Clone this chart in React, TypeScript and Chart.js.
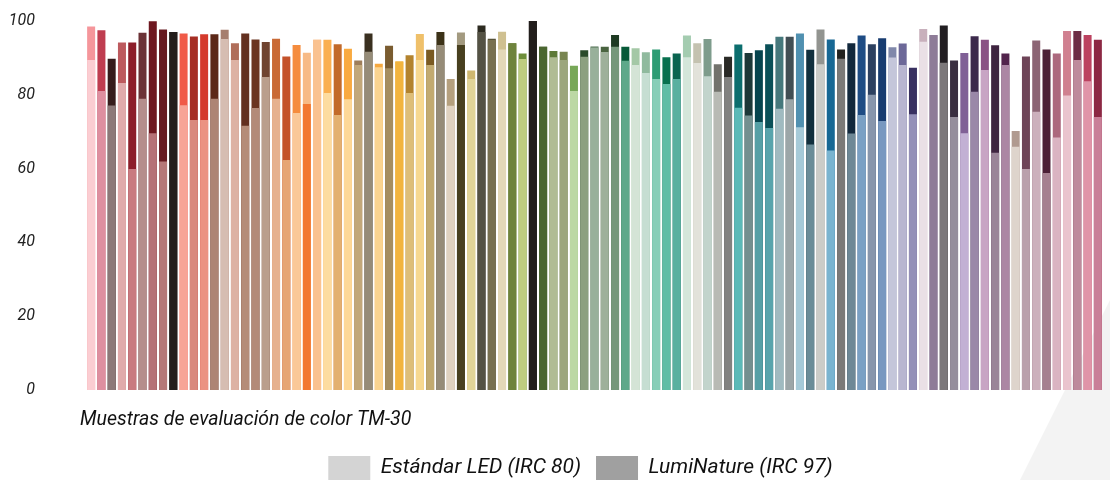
import React, { useEffect, useRef } from "react";
import { Chart, registerables } from "chart.js";

Chart.register(...registerables);

const categories = Array.from({ length: 99 }, (_, i) => `CES${String(i + 1).padStart(2, "0")}`);

const standardLED = [
  89.4, 81.0, 77.1, 83.2, 59.9, 78.9, 69.6, 61.9, 97.0, 77.2, 73.2, 73.2, 78.9, 95.1, 89.4, 71.6, 76.4,
  84.8, 78.9, 62.3, 75.1, 77.5, 94.9, 80.5, 74.5, 78.8, 88.1, 91.7, 87.5, 87.2, 89.0, 80.5, 89.4,
  88.1, 93.5, 77.0, 93.5, 84.3, 97.0, 94.9, 92.3, 94.0, 89.7, 100, 93.0, 90.2, 89.4, 81.0, 90.3, 92.8,
  91.6, 93.0, 89.2, 88.1, 85.9, 84.3, 82.9, 84.3, 90.2, 88.6, 85.0, 80.8, 84.8, 76.5, 74.4, 72.6, 71.0,
  76.2, 78.8, 71.2, 66.5, 88.3, 64.9, 89.8, 69.5, 74.5, 80.0, 72.9, 90.1, 88.1, 74.7, 94.4, 96.2, 88.7,
  74.0, 69.6, 80.8, 86.7, 64.3, 88.1, 65.9, 59.9, 75.4, 58.8, 68.4, 79.8, 89.4, 83.7, 74.0,
];

const lumiNature = [
  98.5, 97.5, 89.8, 94.2, 94.2, 96.8, 99.9, 97.7, 97.0, 96.6, 95.8, 96.4, 96.4, 97.6, 94.0, 96.6, 95.0,
  94.3, 95.2, 90.4, 93.5, 91.4, 94.9, 94.9, 93.7, 92.5, 89.3, 96.6, 88.4, 93.3, 89.0, 90.7, 96.5,
  92.2, 97.0, 84.3, 96.9, 86.6, 98.8, 95.2, 97.1, 94.0, 91.2, 100, 93.0, 91.9, 91.7, 87.9, 92.1, 93.1,
  93.0, 96.2, 93.0, 92.6, 91.5, 92.3, 90.2, 91.2, 96.1, 94.0, 95.1, 88.3, 90.3, 93.6, 91.3, 92.1, 93.7,
  95.7, 95.7, 96.6, 92.2, 97.7, 95.0, 92.3, 94.0, 96.1, 93.7, 95.3, 92.9, 93.9, 87.3, 97.8, 96.2, 98.8,
  89.3, 91.3, 95.9, 94.9, 93.4, 91.2, 70.2, 90.4, 94.7, 92.3, 91.2, 97.3, 97.3, 96.2, 94.9,
];

const standardColors = [
  "#FBCDD2", "#DE8FA0", "#8C7878", "#E0AAAB", "#C97A80", "#B58E8C", "#B57277", "#B57878", "#231E1C",
  "#F7A496", "#D9897E", "#EB9282", "#AD8474", "#D6BDB2", "#DDB2A4", "#B58C78", "#B38A78", "#BA9E8C",
  "#E6B18E", "#E6A574", "#FAC898", "#F27832", "#FAC290", "#FDDCA0", "#E3B070", "#FDD898", "#C2A87A",
  "#968C78", "#FAD490", "#A68E60", "#F2B43E", "#DEBE78", "#F7D890",
  "#C2AA70", "#968C78", "#E0D2C0", "#484020", "#E0D498", "#545244", "#787050", "#E3D8B8", "#6E833C",
  "#BECC80", "#221E1C", "#4A6630", "#B0BC94", "#9CA67C", "#BCD8A4", "#8CA080", "#98B09A",
  "#9EB09A", "#76987A", "#5EA88A", "#D4E4D6", "#C6DED2", "#88CEB8", "#60BDA6", "#5AB0A0", "#D4E6DA",
  "#E2E2DA", "#C2D4CC", "#B8BAB4", "#828280", "#5CBAB8", "#739090", "#56A0A6", "#58A4AC",
  "#A0BAC0", "#9CA6A8", "#A6CAD8", "#6A8C98", "#CBCCC8", "#7AB4D0", "#7C7A78", "#6E8896", "#7AA0C4",
  "#8896AC", "#7898C0", "#C4C6DA", "#B8B6D0", "#9490B8", "#EAE0E6", "#8E7C98", "#7C787A",
  "#968E9C", "#C2B0D4", "#9A88A8", "#C8A4C4", "#9A8498", "#AC86A4", "#DED4CC", "#BAA0AC", "#CCB0BC",
  "#A68090", "#DAB4C2", "#EAC4CE", "#BE8A9C", "#E094A8", "#C97F98",
];

const lumiColors = [
  "#F5969B", "#BF3D50", "#361C1C", "#BD5A5E", "#8C1E2A", "#6B3236", "#6E1820", "#661A20", "#231E1C",
  "#F05A48", "#A62E24", "#D43A2C", "#5C2818", "#A67E6E", "#B06E5A", "#633020", "#6B3420", "#704430",
  "#C96A36", "#C4522A", "#F58C3E", "#F7BA86", "#FAC290", "#FAAF50", "#C26A2A", "#F9AA40", "#9E7E5A",
  "#3A3020", "#F5A840", "#7A5C30", "#F2B43E", "#B3832E", "#EFC06A",
  "#7A5A22", "#3C3218", "#B5A07E", "#A39A80", "#CFB870", "#2C2A20", "#4C4830", "#CFC090", "#6E833C",
  "#6E8E3A", "#221E1C", "#4A6630", "#5E7A38", "#788550", "#78A858", "#2A4A2A", "#4E6E50",
  "#4A6440", "#1E3A22", "#075A38", "#A4C8A6", "#90BA9E", "#2E9C74", "#07704E", "#0A6450", "#A4CCB0",
  "#C4C2B0", "#7E9C8C", "#72726C", "#2A2A26", "#0C6E6E", "#1C3838", "#06444E", "#0A5058",
  "#46787C", "#424E54", "#5090B0", "#12303E", "#929490", "#186894", "#222220", "#12283C", "#1E4C84",
  "#2C4060", "#183C70", "#8088AA", "#6C6898", "#383060", "#C8B0BC", "#8E7C98", "#221E22",
  "#3A2E40", "#806096", "#3C2A4C", "#8A5284", "#3E2440", "#52244C", "#B09A90", "#6E4458", "#8C6474",
  "#4C2036", "#AC687E", "#D08090", "#6E2C44", "#BC4260", "#8C2844",
];

const yTickValues = [0, 20, 40, 60, 80, 100];
const seriesNames = ["Estándar LED (IRC 80)", "LumiNature (IRC 97)"];
const legendSwatches = ["#D4D4D4", "#A0A0A0"];
const xTitle = "Muestras de evaluación de color TM-30";

const FONT = "Roboto, 'Noto Sans', sans-serif";

export default function App() {
  const ref = useRef<HTMLCanvasElement>(null);

  useEffect(() => {
    if (!ref.current) return;
    const bgShape = {
      id: "bgShape",
      beforeDraw(chart: any) {
        const { ctx, width, height } = chart;
        ctx.save();
        ctx.fillStyle = "#F3F3F3";
        ctx.beginPath();
        ctx.moveTo(width, 300);
        ctx.lineTo(width, height);
        ctx.lineTo(1015, height);
        ctx.closePath();
        ctx.fill();
        ctx.restore();
      },
    };
    const layoutTweaks = {
      id: "layoutTweaks",
      afterLayout(chart: any) {
        if (chart.legend) chart.legend.left = 58;
        if (chart.scales && chart.scales.x) chart.scales.x.left -= 6;
      },
    };

    const chart = new Chart(ref.current, {
      type: "bar",
      data: {
        labels: categories,
        datasets: [
          {
            label: seriesNames[0],
            data: standardLED,
            backgroundColor: standardColors,
            borderWidth: 0,
            order: 0,
          },
          {
            label: seriesNames[1],
            data: lumiNature,
            backgroundColor: lumiColors,
            borderWidth: 0,
            order: 1,
          },
        ],
      },
      options: {
        animation: false,
        responsive: true,
        maintainAspectRatio: false,
        layout: { padding: { left: 0, right: 7, top: 21, bottom: 0 } },
        datasets: {
          bar: { grouped: false, barPercentage: 0.78, categoryPercentage: 1 },
        } as any,
        plugins: {
          tooltip: { enabled: false },
          legend: {
            position: "bottom",
            labels: {
              boxWidth: 42,
              boxHeight: 24,
              padding: 15,
              color: "#111111",
              font: { family: FONT, size: 21, style: "italic" },
              generateLabels: () =>
                seriesNames.map((t, i) => ({
                  text: t,
                  fillStyle: legendSwatches[i],
                  strokeStyle: legendSwatches[i],
                  lineWidth: 0,
                  hidden: false,
                  datasetIndex: i,
                  fontColor: "#111111",
                })),
            },
          },
        },
        scales: {
          x: {
            grid: { display: false, drawTicks: false },
            border: { display: false },
            ticks: { display: false },
            title: {
              display: true,
              text: xTitle,
              align: "start",
              color: "#111111",
              font: { family: FONT, size: 19.5, style: "italic" },
              padding: { top: 18.3, bottom: 9.3 },
            },
          },
          y: {
            min: 0,
            max: 100,
            grid: { display: false, drawTicks: false },
            border: { display: false },
            afterBuildTicks: (s: any) => {
              s.ticks = yTickValues.map((v) => ({ value: v }));
            },
            afterFit: (s: any) => {
              s.width = 86;
              s.paddingTop = 0;
              s.paddingBottom = 0;
            },
            ticks: {
              padding: 51,
              color: "#222222",
              font: { family: FONT, size: 16, style: "italic" },
            },
          },
        },
      },
      plugins: [bgShape, layoutTweaks],
    });

    return () => chart.destroy();
  }, []);

  return (
    <div style={{ position: "absolute", left: 0, top: 0, width: 1110, height: 480, overflow: "hidden", background: "#ffffff" }}>
      <div style={{ position: "relative", width: 1110, height: 490 }}>
        <canvas ref={ref} />
      </div>
    </div>
  );
}
